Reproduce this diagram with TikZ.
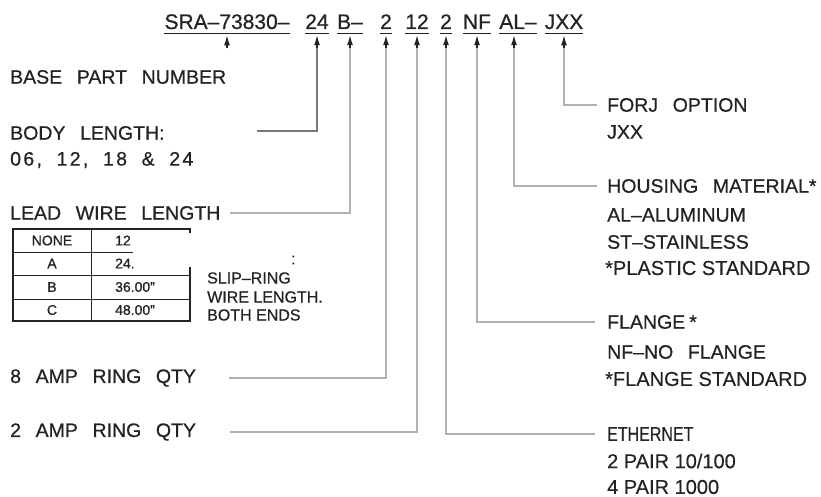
\documentclass[tikz,border=0pt]{standalone}
\usepackage{fontspec}
\setmainfont{Liberation Sans}
\usetikzlibrary{arrows.meta, calc, positioning}
\definecolor{cInk}{RGB}{35,35,35}
\definecolor{cLead}{RGB}{178,178,178}
\definecolor{cLeadDark}{RGB}{120,120,120}
\newcommand\cadfont{\fontsize{19.5}{24}\selectfont\addfontfeature{FakeBold=0.6}\spaceskip=0.75em plus 0.1em\relax}
\newcommand\notefont{\fontsize{20}{24}\selectfont\addfontfeature{FakeBold=0.4}}
\tikzset{
	code/.style   ={inner sep=0pt, anchor=base, font=\fontsize{21}{24}\selectfont\addfontfeature{FakeBold=0.6}, text=cInk},
	lbl/.style    ={anchor=west, inner sep=0pt, font=\cadfont, text=cInk},
	note/.style   ={anchor=west, inner sep=0pt, font=\notefont, text=cInk},
	cell/.style   ={inner sep=0pt, font=\fontsize{14}{16}\selectfont\addfontfeature{FakeBold=1}, text=cInk},
	slip/.style   ={anchor=west, inner sep=0pt, font=\fontsize{16}{18}\selectfont\addfontfeature{FakeBold=0.6}, text=cInk},
	lead/.style   ={cLead, line width=1.1pt},
	tip/.style    ={-{Latex[length=10pt,width=6pt]}, line width=1.2pt, cInk},
	uline/.style  ={line width=0.9pt, cInk},
	tabline/.style={line width=0.9pt, cInk},
}
\begin{document}
\begin{tikzpicture}[x=1pt, y=-1pt]
	\useasboundingbox (0,0) rectangle (821,497);
	% part number code
	\node[code] (cBase) at (227,29) {SRA--73830--};
	\node[code] (cLen)  at (317,29) {24};
	\node[code] (cWire) at (350,29) {B--};
	\node[code] (cAmpE) at (386,29) {2};
	\node[code] (cAmpT) at (417,29) {12};
	\node[code] (cEth)  at (446,29) {2};
	\node[code] (cFlg)  at (477,29) {NF};
	\node[code] (cMat)  at (518,29) {AL--};
	\node[code] (cForj) at (564,29) {JXX};
	\foreach \c in {cBase,cLen,cWire,cAmpE,cAmpT,cEth,cFlg,cMat,cForj}
		\draw[uline] ([yshift=-4pt]\c.south west) -- ([yshift=-4pt]\c.south east);
	% left labels
	\node[lbl] (base)  at (10,77)  {BASE PART NUMBER};
	\node[lbl] (body)  at (10,133) {BODY LENGTH:};
	\node[lbl, font=\cadfont\addfontfeature{LetterSpace=12}] (bodyV) at (10,160) {06, 12, 18 \& 24};
	\node[lbl] (wire)  at (10,213) {LEAD WIRE LENGTH};
	\node[lbl] (ampE)  at (10,378) {8 AMP RING QTY};
	\node[lbl] (ampT)  at (10,432) {2 AMP RING QTY};
	\coordinate (bodyEnd) at (257,131);
	\coordinate (wireEnd) at (230,213);
	\coordinate (ampEEnd) at (229,378);
	\coordinate (ampTEnd) at (230,432);
	% lead wire table
	\draw[tabline, line width=1.4pt] (190,233) -- (190,229) -- (13,229) -- (13,321) -- (190,321) -- (190,267);
	\draw[tabline] (91,229) -- (91,321);
	\draw[tabline] (13,252) -- (133,252);
	\draw[tabline] (13,275) -- (190,275);
	\draw[tabline] (13,299) -- (190,299);
	\node[cell] at (52,240.5) {NONE};
	\node[cell] at (52,263.5) {A};
	\node[cell] at (52,287)   {B};
	\node[cell] at (52,310)   {C};
	\node[cell, anchor=west] at (115,240.5) {12};
	\node[cell, anchor=west] at (115,263.5) {24.};
	\node[cell, anchor=west] at (115,287)   {36.00"};
	\node[cell, anchor=west] at (115,310)   {48.00"};
	\node[slip] at (291,260) {:};
	\node[slip] at (207,278) {SLIP--RING};
	\node[slip] at (207,297) {WIRE LENGTH.};
	\node[slip] at (207,315) {BOTH ENDS};
	% right labels
	\node[lbl]  (forj)  at (607,105) {FORJ OPTION};
	\node[lbl]  (forjV) at (607,132) {JXX};
	\node[lbl]  (mat)   at (607,186) {HOUSING MATERIAL*};
	\node[lbl]  (matA)  at (607,215) {AL--ALUMINUM};
	\node[lbl]  (matS)  at (607,242) {ST--STAINLESS};
	\node[note] (matN)  at (605,268) {*PLASTIC STANDARD};
	\node[lbl]  (flg)   at (607,322) {FLANGE\hspace{4pt}*};
	\node[lbl]  (flgN)  at (607,352) {NF--NO FLANGE};
	\node[note] (flgS)  at (605,379) {*FLANGE STANDARD};
	\node[note] (eth)   at (607,434) {\scalebox{0.8}[1]{ETHERNET}};
	\node[note] (ethA)  at (607,461) {2 PAIR 10/100};
	\node[note] (ethB)  at (607,487) {4 PAIR 1000};
	% leaders
	\draw[lead, cLeadDark] ([yshift=-19pt]cLen.south) |- (bodyEnd);
	\draw[lead] ([yshift=-19pt]cWire.south) |- (wireEnd);
	\draw[lead] ([yshift=-19pt]cAmpE.south) |- (ampEEnd);
	\draw[lead] ([yshift=-19pt]cAmpT.south) |- (ampTEnd);
	\draw[lead] ([yshift=-19pt]cEth.south) |- ([xshift=-12pt]eth.west);
	\draw[lead] ([yshift=-19pt]cFlg.south) |- ([xshift=-12pt]flg.west);
	\draw[lead] ([xshift=-4pt, yshift=-19pt]cMat.south) |- ([xshift=-10pt]mat.west);
	\draw[lead] ([yshift=-19pt]cForj.south) |- ([xshift=-10pt]forj.west);
	% arrows
	\foreach \c in {cBase,cLen,cWire,cAmpE,cAmpT,cEth,cFlg,cForj}
		\draw[tip] ([yshift=-19pt]\c.south) -- ([yshift=-6pt]\c.south);
	\draw[tip] ([xshift=-4pt, yshift=-19pt]cMat.south) -- ([xshift=-4pt, yshift=-6pt]cMat.south);
\end{tikzpicture}
\end{document}
